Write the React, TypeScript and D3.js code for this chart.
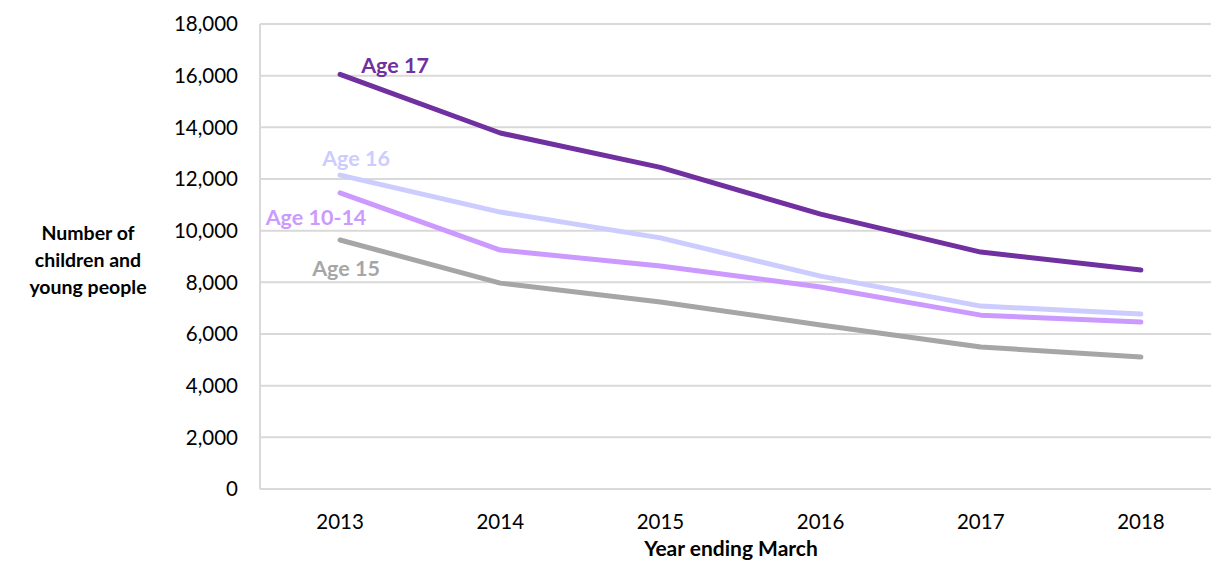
import React, { useRef, useEffect } from 'react';
import * as d3 from 'd3';

// --- Data ---
const years = ['2013', '2014', '2015', '2016', '2017', '2018'];
const age17 = [16050, 13780, 12450, 10640, 9170, 8480];
const age16 = [12150, 10720, 9720, 8240, 7080, 6770];
const age1014 = [11460, 9250, 8630, 7820, 6730, 6460];
const age15 = [9640, 7970, 7240, 6350, 5500, 5110];
const yTicks = [0, 2000, 4000, 6000, 8000, 10000, 12000, 14000, 16000, 18000];

const series = [
  { name: 'Age 15', values: age15, color: '#A6A6A6' },
  { name: 'Age 10-14', values: age1014, color: '#CC99FF' },
  { name: 'Age 16', values: age16, color: '#CCCCFF' },
  { name: 'Age 17', values: age17, color: '#7030A0' },
];

const App = () => {
  const ref = useRef<SVGSVGElement>(null);

  useEffect(() => {
    const svg = d3.select(ref.current);
    svg.selectAll('*').remove();

    const W = 1211, H = 562;
    const left = 260, right = 1221, top = 24, bottom = 489;
    const font = 'Lato, "Open Sans", sans-serif';

    const x = d3.scalePoint().domain(years).range([left, right]).padding(0.5);
    const y = d3.scaleLinear().domain([0, 18000]).range([bottom, top]);

    svg.attr('width', W).attr('height', H);

    // Gridlines
    svg.append('g')
      .selectAll('line')
      .data(yTicks)
      .enter()
      .append('line')
      .attr('x1', left)
      .attr('x2', W)
      .attr('y1', d => y(d))
      .attr('y2', d => y(d))
      .attr('stroke', '#D9D9D9')
      .attr('stroke-width', 2);

    // Y axis line
    svg.append('line')
      .attr('x1', left).attr('x2', left)
      .attr('y1', top).attr('y2', bottom)
      .attr('stroke', '#D9D9D9')
      .attr('stroke-width', 2);

    // Y tick labels
    const fmt = d3.format(',');
    svg.append('g')
      .selectAll('text')
      .data(yTicks)
      .enter()
      .append('text')
      .attr('x', 238)
      .attr('y', d => y(d))
      .attr('dy', '0.35em')
      .attr('text-anchor', 'end')
      .attr('font-family', font)
      .attr('font-size', 20.5)
      .attr('fill', '#000')
      .text(d => fmt(d));

    // X tick labels
    svg.append('g')
      .selectAll('text')
      .data(years)
      .enter()
      .append('text')
      .attr('x', d => x(d)!)
      .attr('y', 522)
      .attr('dy', '0.35em')
      .attr('text-anchor', 'middle')
      .attr('font-family', font)
      .attr('font-size', 20.5)
      .attr('fill', '#000')
      .text(d => d);

    // Axis titles
    svg.append('text')
      .attr('x', 731)
      .attr('y', 556)
      .attr('text-anchor', 'middle')
      .attr('font-family', font)
      .attr('font-weight', 'bold')
      .attr('font-size', 21)
      .text('Year ending March');

    const yTitle = ['Number of', 'children and', 'young people'];
    svg.append('g')
      .selectAll('text')
      .data(yTitle)
      .enter()
      .append('text')
      .attr('x', 88)
      .attr('y', (d, i) => 233 + i * 27)
      .attr('dy', '0.35em')
      .attr('text-anchor', 'middle')
      .attr('font-family', font)
      .attr('font-weight', 'bold')
      .attr('font-size', 19.5)
      .text(d => d);

    // Lines
    const line = d3.line<number>()
      .x((d, i) => x(years[i])!)
      .y(d => y(d));

    svg.append('g')
      .selectAll('path')
      .data(series)
      .enter()
      .append('path')
      .attr('d', d => line(d.values))
      .attr('fill', 'none')
      .attr('stroke', d => d.color)
      .attr('stroke-width', 5)
      .attr('stroke-linecap', 'round')
      .attr('stroke-linejoin', 'round');

    // Series labels
    const labels = [
      { name: 'Age 17', color: '#7030A0', x: 395, y: 65 },
      { name: 'Age 16', color: '#CCCCFF', x: 356, y: 158 },
      { name: 'Age 10-14', color: '#CC99FF', x: 316, y: 217 },
      { name: 'Age 15', color: '#A6A6A6', x: 346, y: 268 },
    ];
    svg.append('g')
      .selectAll('text')
      .data(labels)
      .enter()
      .append('text')
      .attr('x', d => d.x)
      .attr('y', d => d.y)
      .attr('dy', '0.35em')
      .attr('text-anchor', 'middle')
      .attr('font-family', font)
      .attr('font-weight', 'bold')
      .attr('font-size', 21.5)
      .attr('fill', d => d.color)
      .text(d => d.name);
  }, []);

  return (
    <div style={{ position: 'absolute', left: 0, top: 0, background: '#fff' }}>
      <svg ref={ref} style={{ display: 'block' }}></svg>
    </div>
  );
};

export default App;
